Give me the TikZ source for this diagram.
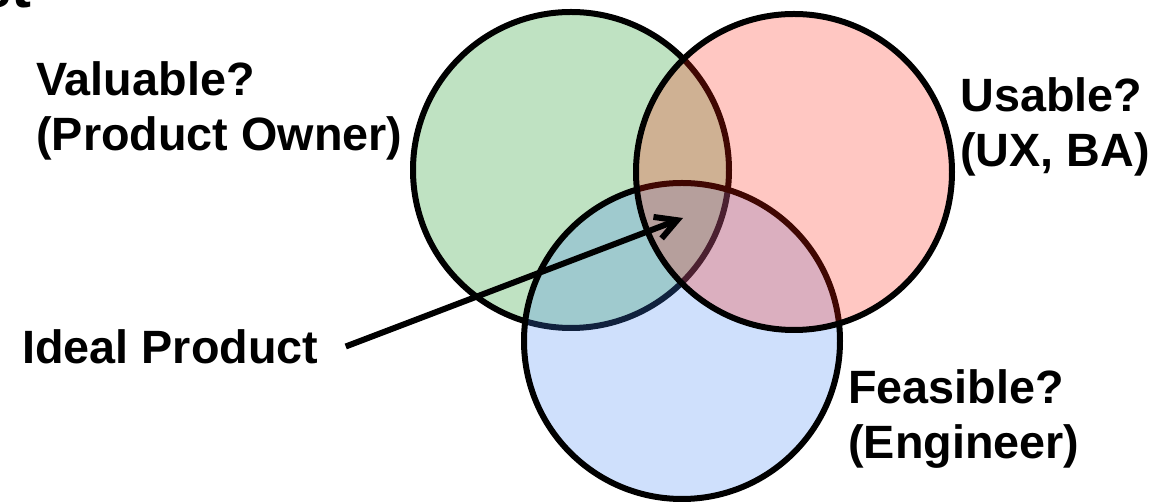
\documentclass[tikz,border=0pt]{standalone}
\usepackage{fontspec}
\setmainfont{Liberation Sans}
\usetikzlibrary{arrows.meta}

\definecolor{valgreen}{RGB}{0,140,10}
\definecolor{feasblue}{RGB}{64,132,244}
\definecolor{usered}{RGB}{255,30,10}

\tikzset{
  ring/.style={draw=black, line width=0.12cm, fill opacity=0.25},
  tag/.style={inner sep=0pt, anchor=north west, align=left,
    font=\fontsize{26.6}{31.5}\selectfont\bfseries},
  pointer/.style={line width=0.12cm, -{Straight Barb[length=0.42cm,width=0.46cm]}}
}

\begin{document}
\begin{tikzpicture}[x=0.02cm,y=-0.02cm]
      \def\r{158}
      \useasboundingbox (0,0) rectangle (1161,502);

      % Lingkaran (urutan: hijau, biru, merah)
      \filldraw[ring, fill=valgreen] (571,170) circle (\r);
      \filldraw[ring, fill=feasblue] (682,341) circle (\r);
      \filldraw[ring, fill=usered]   (794,172) circle (\r);

      % Sisa judul di atas
      \node[anchor=base west, inner sep=0pt,
        font=\fontsize{34}{40}\selectfont\bfseries] (title) at (-22,8) {st};

      % Label
      \node[tag] (valuable) at (36,61)  {Valuable?\\(Product Owner)};
      \node[tag] (usable)   at (960,77) {Usable?\\(UX, BA)};
      \node[tag] (feasible) at (848,369) {Feasible?\\(Engineer)};
      \node[tag] (ideal)    at (22,329) {Ideal Product};

      % Panah ke tengah
      \coordinate (core) at (683,218);
      \draw[pointer] ([xshift=0.54cm]ideal.east) -- (core);
    \end{tikzpicture}
\end{document}
